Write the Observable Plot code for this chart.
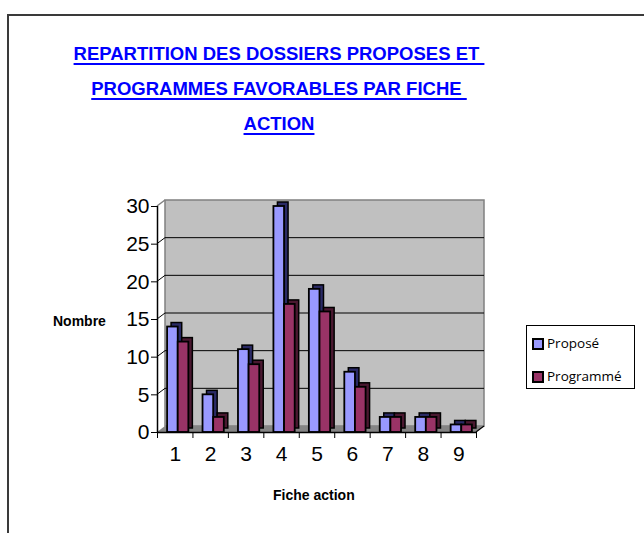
<!DOCTYPE html>
<html>
<head>
<meta charset="utf-8">
<script src="https://cdn.jsdelivr.net/npm/d3@7"></script>
<script src="https://cdn.jsdelivr.net/npm/@observablehq/plot@0.6"></script>
<style>
  html, body { margin: 0; padding: 0; background: #fff; }
  body { width: 644px; height: 533px; position: relative; overflow: hidden; }
  #frame { position: absolute; left: 7px; top: 14px; width: 700px; height: 600px; border: 2px solid #3a3a3a; box-sizing: border-box; }
  #title { position: absolute; left: 0; top: 36px; width: 558px; text-align: center;
    font-family: "Liberation Sans", Arial, sans-serif; font-weight: bold;
    font-size: 18.5px; line-height: 35px; color: #0000ff; text-decoration: underline;
    text-decoration-thickness: 2px; text-underline-offset: 3px; white-space: pre; }
  #chart { position: absolute; left: 0; top: 0; }
  .lab { position: absolute; font-family: "Liberation Sans", Arial, sans-serif; font-weight: bold; font-size: 14px; color: #000; white-space: nowrap; }
  #legend { position: absolute; left: 526px; top: 325px; width: 109px; height: 64px; border: 1px solid #000; box-sizing: border-box; background: #fff;
    font-family: "Open Sans", "Liberation Sans", sans-serif; font-size: 13.5px; }
  .item { position: absolute; left: 5px; height: 14px; line-height: 14px; }
  .sw { display: inline-block; width: 8px; height: 8px; border: 2px solid #000; vertical-align: -2px; margin-right: 3px; }
</style>
</head>
<body>
<div id="frame"></div>
<div id="title">REPARTITION DES DOSSIERS PROPOSES ET&nbsp;
PROGRAMMES FAVORABLES PAR FICHE&nbsp;
ACTION</div>
<div id="chart"></div>
<div class="lab" id="ylab" style="left:53px; top:313px;">Nombre</div>
<div class="lab" id="xlab" style="left:273px; top:487px;">Fiche action</div>
<div id="legend"></div>
<script>
// ---- data ----
const categories = [1, 2, 3, 4, 5, 6, 7, 8, 9];
const propose = [14, 5, 11, 30, 19, 8, 2, 2, 1];
const programme = [12, 2, 9, 17, 16, 6, 2, 2, 1];
const seriesNames = ["Proposé", "Programmé"];
const seriesColors = ["#9999ff", "#993366"];
const seriesSides = ["#2a2a66", "#4a1830"];
const yTicks = [0, 5, 10, 15, 20, 25, 30];

const rowsP = categories.map((c, i) => ({cat: c, value: propose[i]}));
const rowsR = categories.map((c, i) => ({cat: c, value: programme[i]}));
const xMin = categories[0] - 0.5, xMax = categories[categories.length - 1] + 0.5;
const yMax = yTicks[yTicks.length - 1];
const bounds = categories.map(c => c - 0.5).concat([xMax]);

const DX = 8, DY = -6; // depth of the 3D box

function chrome(index, scales) {
  const x = scales.x, y = scales.y;
  const X0 = x(xMin), X1 = x(xMax), Y0 = y(0), Y1 = y(yMax);
  const g = d3.create("svg:g");
  // back wall
  g.append("rect").attr("x", X0 + DX).attr("y", Y1 + DY).attr("width", X1 - X0).attr("height", Y0 - Y1)
    .attr("fill", "#c0c0c0").attr("stroke", "#808080").attr("stroke-width", 1.5);
  // top edge of side panel
  g.append("path").attr("d", `M${X0},${Y1}L${X0 + DX},${Y1 + DY}`).attr("stroke", "#808080").attr("stroke-width", 1.5);
  // gridlines
  for (const t of yTicks) {
    if (t <= 0 || t >= yMax) continue;
    const yy = y(t);
    g.append("path").attr("d", `M${X0},${yy}L${X0 + DX},${yy + DY}L${X1 + DX},${yy + DY}`)
      .attr("fill", "none").attr("stroke", "#000").attr("stroke-width", 1);
  }
  // floor
  g.append("path").attr("d", `M${X0},${Y0}L${X1},${Y0}L${X1 + DX},${Y0 + DY}L${X0 + DX},${Y0 + DY}Z`)
    .attr("fill", "#858585").attr("stroke", "none");
  g.append("path").attr("d", `M${X1},${Y0}L${X1 + DX},${Y0 + DY}`).attr("stroke", "#000").attr("stroke-width", 1.2);
  return g.node();
}

const W = 0.3; // bar width in category units
function bars(rows, k) {
  const x1 = d => d.cat - W + k * W, x2 = d => d.cat + k * W;
  return [
    Plot.rectY(rows, {x1, x2, y: "value", dx: 3 + 4, dy: -4, fill: seriesSides[k], stroke: "#000", strokeWidth: 1.5}),
    Plot.rectY(rows, {x1, x2, y: "value", dx: 3, dy: 0, fill: seriesColors[k], stroke: "#000", strokeWidth: 1.8})
  ];
}

const chart = Plot.plot({
  width: 644,
  height: 533,
  marginLeft: 157,
  marginRight: 168,
  marginTop: 206,
  marginBottom: 101,
  style: {fontFamily: "'Liberation Sans', Arial, sans-serif", background: "transparent", color: "#000"},
  x: {type: "linear", domain: [xMin, xMax], axis: null},
  y: {domain: [0, yMax], axis: null},
  marks: [
    chrome,
    ...bars(rowsP, 0),
    ...bars(rowsR, 1),
    Plot.ruleX([xMin], {stroke: "#000", strokeWidth: 1.5}),
    Plot.ruleY([0], {stroke: "#000", strokeWidth: 1.5}),
    Plot.axisY({ticks: yTicks, tickSize: 6, tickPadding: 2, fontSize: 21, label: null, stroke: "#000"}),
    Plot.axisX({ticks: bounds, tickSize: 6, tickFormat: () => "", label: null, stroke: "#000"}),
    Plot.axisX({ticks: categories, tickSize: 0, tickPadding: 14, fontSize: 21, label: null, tickFormat: d => String(d)})
  ]
});
document.getElementById("chart").appendChild(chart);

// legend
const leg = document.getElementById("legend");
seriesNames.forEach((name, k) => {
  const it = document.createElement("div");
  it.className = "item";
  it.style.top = (k === 0 ? 10 : 43) + "px";
  it.innerHTML = `<span class="sw" style="background:${seriesColors[k]}"></span>${name}`;
  leg.appendChild(it);
});
</script>
</body>
</html>
